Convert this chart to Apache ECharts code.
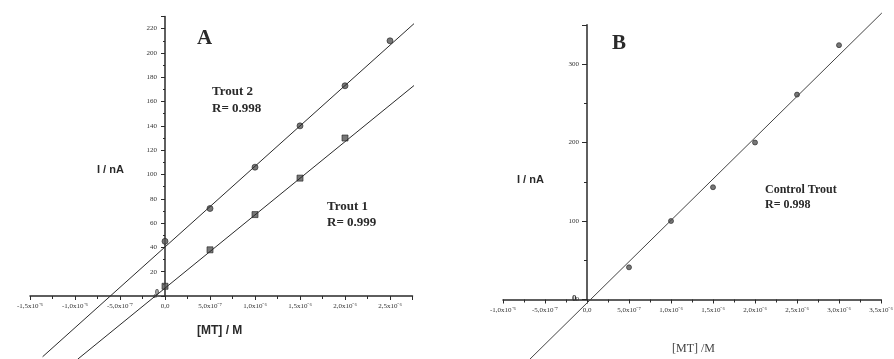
<!DOCTYPE html>
<html>
<head>
<meta charset="utf-8">
<script src="https://cdn.jsdelivr.net/npm/echarts@6/dist/echarts.min.js"></script>
<style>
  html, body { margin: 0; padding: 0; background: #fff; }
  #chart { width: 894px; height: 359px; }
</style>
</head>
<body>
<div id="chart"></div>
<script>
// concentrations in units of 10^-6 M
const concA = [0, 0.5, 1, 1.5, 2, 2.5];
const trout2 = [45, 72, 106, 140, 173, 210];
const concA1 = [0, 0.5, 1, 1.5, 2];
const trout1 = [8, 38, 67, 97, 130];

const concB = [0.5, 1, 1.5, 2, 2.5, 3];
const control = [41, 100, 143, 200, 261, 324];

// regression lines, end points
const fitT2X = [-1.36, 2.78], fitT2Y = [-50, 225];
const fitT1X = [-0.97, 2.78], fitT1Y = [-52, 174];
const fitBX = [-0.68, 3.51], fitBY = [-76, 365];

const xTicksA = [-1.5, -1, -0.5, 0, 0.5, 1, 1.5, 2, 2.5];
const xTickLabelsA = ['-1,5x10⁻⁶', '-1,0x10⁻⁶', '-5,0x10⁻⁷', '0,0', '5,0x10⁻⁷', '1,0x10⁻⁶', '1,5x10⁻⁶', '2,0x10⁻⁶', '2,5x10⁻⁶'];
const xTicksB = [-1, -0.5, 0, 0.5, 1, 1.5, 2, 2.5, 3, 3.5];
const xTickLabelsB = ['-1,0x10⁻⁶', '-5,0x10⁻⁷', '0,0', '5,0x10⁻⁷', '1,0x10⁻⁶', '1,5x10⁻⁶', '2,0x10⁻⁶', '2,5x10⁻⁶', '3,0x10⁻⁶', '3,5x10⁻⁶'];

const zip = (xs, ys) => xs.map((x, i) => [x, ys[i]]);
const pick = (ticks, labels) => v => {
    let i = ticks.findIndex(t => Math.abs(t - v) < 1e-6);
    return i < 0 ? '' : labels[i];
};

const ink = '#2a2a2a';
const axisStyle = { lineStyle: { color: ink, width: 1.5 } };
const tickLabel = { color: '#333', fontSize: 7, fontFamily: 'Liberation Serif' };

const chart = echarts.init(document.getElementById('chart'));

const option = {
    backgroundColor: '#fff',
    animation: false,
    grid: [
        { left: 30, top: 16.5, width: 382.5, height: 279.5, containLabel: false, outerBoundsMode: 'none' },
        { left: 503, top: 24.75, width: 378, height: 274.75, containLabel: false, outerBoundsMode: 'none' }
    ],
    xAxis: [{
        gridIndex: 0, type: 'value', min: -1.5, max: 2.75, interval: 0.5,
        splitLine: { show: false },
        axisLine: axisStyle,
        axisTick: { length: 4, lineStyle: { color: ink } },
        minorTick: { show: true, splitNumber: 2, length: 3, lineStyle: { color: ink } },
        axisLabel: Object.assign({ margin: 7, formatter: pick(xTicksA, xTickLabelsA) }, tickLabel)
    }, {
        gridIndex: 1, type: 'value', min: -1, max: 3.5, interval: 0.5,
        splitLine: { show: false },
        axisLine: axisStyle,
        axisTick: { length: 4, lineStyle: { color: ink } },
        minorTick: { show: true, splitNumber: 2, length: 3, lineStyle: { color: ink } },
        axisLabel: Object.assign({ margin: 7, formatter: pick(xTicksB, xTickLabelsB) }, tickLabel)
    }],
    yAxis: [{
        // y axis sits at x = 0, i.e. 1.5 units (135 px) inside the grid
        gridIndex: 0, type: 'value', min: 0, max: 230, interval: 20,
        position: 'left', offset: -135,
        splitLine: { show: false },
        axisLine: Object.assign({ onZero: false }, axisStyle),
        axisTick: { inside: false, length: 4, lineStyle: { color: ink } },
        minorTick: { show: true, splitNumber: 2, length: 2, lineStyle: { color: ink } },
        axisLabel: Object.assign({ inside: false, margin: 8, showMinLabel: true, showMaxLabel: false }, tickLabel)
    }, {
        gridIndex: 1, type: 'value', min: 0, max: 350, interval: 100,
        position: 'left', offset: -84,
        splitLine: { show: false },
        axisLine: Object.assign({ onZero: false }, axisStyle),
        axisTick: { inside: false, length: 5, lineStyle: { color: ink } },
        minorTick: { show: true, splitNumber: 2, length: 3, lineStyle: { color: ink } },
        axisLabel: Object.assign({ inside: false, margin: 8, showMinLabel: true, showMaxLabel: false }, tickLabel)
    }],
    series: [
        { name: 'Trout 2 fit', type: 'line', xAxisIndex: 0, yAxisIndex: 0, clip: false, showSymbol: false, data: zip(fitT2X, fitT2Y), lineStyle: { color: ink, width: 1 } },
        { name: 'Trout 1 fit', type: 'line', xAxisIndex: 0, yAxisIndex: 0, clip: false, showSymbol: false, data: zip(fitT1X, fitT1Y), lineStyle: { color: ink, width: 1 } },
        { name: 'Trout 2', type: 'scatter', xAxisIndex: 0, yAxisIndex: 0, clip: false, symbol: 'circle', symbolSize: 6, data: zip(concA, trout2), itemStyle: { color: '#555', borderColor: '#222', borderWidth: 0.8 } },
        { name: 'Trout 1', type: 'scatter', xAxisIndex: 0, yAxisIndex: 0, clip: false, symbol: 'rect', symbolSize: 6, data: zip(concA1, trout1), itemStyle: { color: '#555', borderColor: '#222', borderWidth: 0.8 } },
        { name: 'Control fit', type: 'line', xAxisIndex: 1, yAxisIndex: 1, clip: false, showSymbol: false, data: zip(fitBX, fitBY), lineStyle: { color: '#444', width: 1 } },
        { name: 'Control Trout', type: 'scatter', xAxisIndex: 1, yAxisIndex: 1, clip: false, symbol: 'circle', symbolSize: 5, data: zip(concB, control), itemStyle: { color: '#555', borderColor: '#222', borderWidth: 0.8 } }
    ],
    graphic: [
        { type: 'text', left: 197, top: 28, style: { text: 'A', font: 'bold 21px "Liberation Serif"', fill: ink } },
        { type: 'text', left: 612, top: 33, style: { text: 'B', font: 'bold 21px "Liberation Serif"', fill: ink } },
        { type: 'text', left: 212, top: 83, style: { text: 'Trout 2\nR= 0.998', font: 'bold 13px "Liberation Serif"', lineHeight: 17, fill: ink } },
        { type: 'text', left: 327, top: 199, style: { text: 'Trout 1\nR= 0.999', font: 'bold 13px "Liberation Serif"', lineHeight: 16, fill: ink } },
        { type: 'text', left: 765, top: 182, style: { text: 'Control Trout\nR= 0.998', font: 'bold 12px "Liberation Serif"', lineHeight: 15, fill: ink } },
        { type: 'text', left: 97, top: 164, style: { text: 'I / nA', font: 'bold 11px "Liberation Sans"', fill: ink } },
        { type: 'text', left: 517, top: 174, style: { text: 'I / nA', font: 'bold 11px "Liberation Sans"', fill: ink } },
        { type: 'text', left: 197, top: 325, style: { text: '[MT] / M', font: 'bold 12px "Liberation Sans"', fill: ink } },
        { type: 'text', left: 672, top: 343, style: { text: '[MT] /M', font: '12px "Liberation Serif"', fill: '#444' } },
        // zero labels where the axes cross (hidden by the library there)
        { type: 'text', left: 155, top: 289, style: { text: '0', font: 'bold 8px "Liberation Serif"', fill: '#333' } },
        { type: 'text', left: 572, top: 294, style: { text: '0', font: 'bold 9px "Liberation Serif"', fill: '#333' } }
    ]
};

chart.setOption(option);
</script>
</body>
</html>
